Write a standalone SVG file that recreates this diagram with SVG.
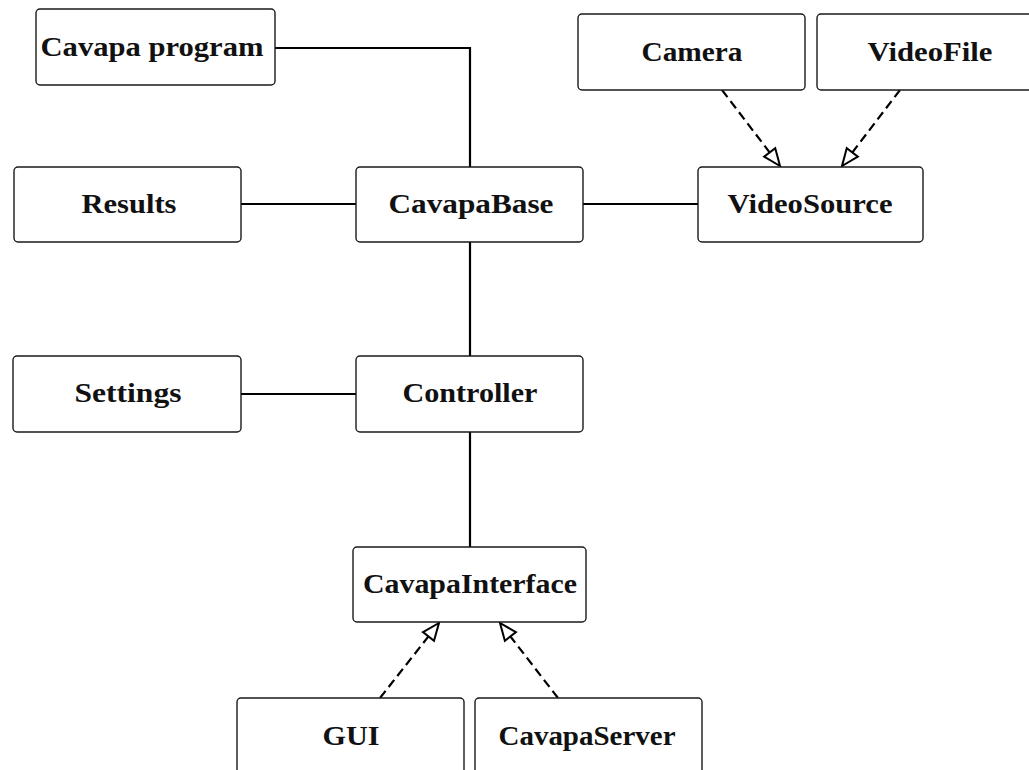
<svg xmlns="http://www.w3.org/2000/svg" width="1029" height="770" viewBox="0 0 1029 770">
<style>
.box{fill:#fff;stroke:#1a1a1a;stroke-width:1.4}
.lbl{font-family:"Liberation Serif","DejaVu Serif",serif;font-weight:bold;font-size:27px;fill:#111;text-anchor:middle}
.con{fill:none;stroke:#000;stroke-width:2.2}
.dash{fill:none;stroke:#000;stroke-width:2.2;stroke-dasharray:9 5}
</style>
<defs>
<marker id="tri" markerUnits="userSpaceOnUse" markerWidth="24" markerHeight="24" viewBox="-2 -2 24 22" refX="18" refY="8" orient="auto">
<path d="M1,1 L18,8 L1,15 Z" fill="#fff" stroke="#000" stroke-width="2"/>
</marker>
</defs>
<rect width="1029" height="770" fill="#fff"/>
<g id="connectors">
<polyline class="con" points="275,48 470,48 470,167"/>
<line class="con" x1="241" y1="204" x2="356" y2="204"/>
<line class="con" x1="583" y1="204" x2="698" y2="204"/>
<line class="con" x1="470" y1="242" x2="470" y2="356"/>
<line class="con" x1="241" y1="394" x2="356" y2="394"/>
<line class="con" x1="470" y1="432" x2="470" y2="547"/>
<line class="dash" x1="722" y1="90" x2="780" y2="166" marker-end="url(#tri)"/>
<line class="dash" x1="900" y1="90" x2="842" y2="166" marker-end="url(#tri)"/>
<line class="dash" x1="380" y1="698" x2="439" y2="623" marker-end="url(#tri)"/>
<line class="dash" x1="558" y1="698" x2="500" y2="623" marker-end="url(#tri)"/>
</g>
<g id="cavapa-program"><rect class="box" x="36" y="9" width="239" height="76" rx="4"/><text class="lbl" x="152" y="56" textLength="223" lengthAdjust="spacingAndGlyphs">Cavapa program</text></g>
<g id="results"><rect class="box" x="14" y="167" width="227" height="75" rx="4"/><text class="lbl" x="129" y="213" textLength="95" lengthAdjust="spacingAndGlyphs">Results</text></g>
<g id="cavapabase"><rect class="box" x="356" y="167" width="227" height="75" rx="4"/><text class="lbl" x="471" y="213" textLength="165" lengthAdjust="spacingAndGlyphs">CavapaBase</text></g>
<g id="videosource"><rect class="box" x="698" y="167" width="225" height="75" rx="4"/><text class="lbl" x="810" y="213" textLength="165" lengthAdjust="spacingAndGlyphs">VideoSource</text></g>
<g id="camera"><rect class="box" x="578" y="14" width="227" height="76" rx="4"/><text class="lbl" x="692" y="61" textLength="101" lengthAdjust="spacingAndGlyphs">Camera</text></g>
<g id="videofile"><rect class="box" x="817" y="14" width="227" height="76" rx="4"/><text class="lbl" x="930" y="61" textLength="125" lengthAdjust="spacingAndGlyphs">VideoFile</text></g>
<g id="settings"><rect class="box" x="13" y="356" width="228" height="76" rx="4"/><text class="lbl" x="128" y="402" textLength="107" lengthAdjust="spacingAndGlyphs">Settings</text></g>
<g id="controller"><rect class="box" x="356" y="356" width="227" height="76" rx="4"/><text class="lbl" x="470" y="402" textLength="135" lengthAdjust="spacingAndGlyphs">Controller</text></g>
<g id="cavapainterface"><rect class="box" x="353" y="547" width="233" height="75" rx="4"/><text class="lbl" x="470" y="593" textLength="214" lengthAdjust="spacingAndGlyphs">CavapaInterface</text></g>
<g id="gui"><rect class="box" x="237" y="698" width="227" height="80" rx="4"/><text class="lbl" x="351" y="745" textLength="57" lengthAdjust="spacingAndGlyphs">GUI</text></g>
<g id="cavapaserver"><rect class="box" x="475" y="698" width="227" height="80" rx="4"/><text class="lbl" x="587" y="745" textLength="177" lengthAdjust="spacingAndGlyphs">CavapaServer</text></g>
</svg>
